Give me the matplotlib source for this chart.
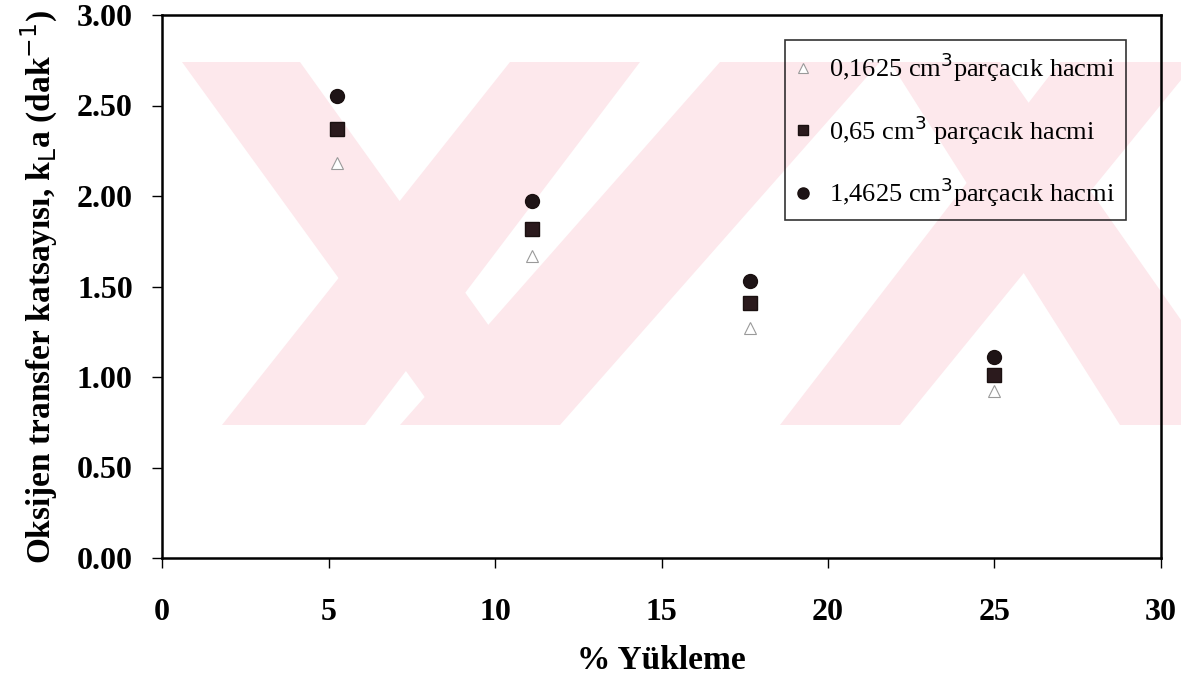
import numpy as np
import matplotlib.pyplot as plt
from matplotlib.patches import Polygon

# data
yukleme = [5.26, 11.11, 17.65, 25.0]
kla_01625 = [2.18, 1.67, 1.27, 0.92]
kla_065 = [2.37, 1.82, 1.41, 1.01]
kla_14625 = [2.55, 1.97, 1.53, 1.11]

W, H = 1181, 677


def main():
    plt.rcParams['font.family'] = ['Liberation Serif', 'DejaVu Sans']
    plt.rcParams['mathtext.fontset'] = 'dejavusans'

    fig = plt.figure(figsize=(W / 100, H / 100), dpi=100)
    fig.patch.set_facecolor('white')

    # faint watermark behind everything, pixel coords
    bg = fig.add_axes([0, 0, 1, 1], zorder=-1)
    bg.set_xlim(0, W)
    bg.set_ylim(H, 0)
    bg.axis('off')
    pink = '#fde8ec'
    stripes = [
        [(182, 62), (300, 62), (560, 425), (445, 425)],
        [(510, 62), (640, 62), (365, 425), (222, 425)],
        [(720, 62), (880, 62), (560, 425), (400, 425)],
        [(890, 62), (1000, 62), (1181, 320), (1181, 425), (1120, 425)],
        [(1060, 62), (1181, 62), (1181, 80), (900, 425), (780, 425)],
    ]
    for pts in stripes:
        bg.add_patch(Polygon(pts, closed=True, facecolor=pink, edgecolor='none'))

    ax = fig.add_axes([162 / W, 1 - 558 / H, (1161 - 162) / W, (558 - 15) / H])
    ax.patch.set_alpha(0)

    ax.plot(yukleme, kla_01625, ls='none', marker='^', ms=9, mfc='white',
            mec='#9a9a9a', mew=0.8, label='0,1625 cm$^{3}$parçacık hacmi')
    ax.plot(yukleme, kla_065, ls='none', marker='s', ms=9.5, mfc='#2b1a1d',
            mec='#1a1010', label='0,65 cm$^{3}$ parçacık hacmi')
    ax.plot(yukleme, kla_14625, ls='none', marker='o', ms=10, mfc='#1e1416',
            mec='#1a1010', label='1,4625 cm$^{3}$parçacık hacmi')

    ax.set_xlim(0, 30)
    ax.set_ylim(0, 3)
    ax.set_xticks(np.arange(0, 31, 5))
    ax.set_yticks(np.arange(0, 3.01, 0.5))
    ax.set_yticklabels(['%.2f' % v for v in np.arange(0, 3.01, 0.5)])
    ax.tick_params(axis='x', direction='out', length=7, width=1, pad=22, labelsize=23)
    ax.tick_params(axis='y', direction='out', length=7, width=1, pad=14, labelsize=23)
    for lab in ax.get_xticklabels() + ax.get_yticklabels():
        lab.set_fontweight('bold')
    for s in ax.spines.values():
        s.set_linewidth(1.8)

    ax.set_xlabel('% Yükleme', fontsize=24, fontweight='bold', labelpad=13)
    ax.set_ylabel('Oksijen transfer katsayısı, k$_{\\mathrm{L}}$a (dak$^{-1}$)',
                  fontsize=24, fontweight='bold', labelpad=12)

    leg = ax.legend(loc='upper right', bbox_to_anchor=((1126 - 162) / (1161 - 162), (558 - 40) / 543),
                    borderaxespad=0, fontsize=19, frameon=True, fancybox=False,
                    edgecolor='black', facecolor='none', framealpha=None,
                    handlelength=0.6, handletextpad=0.7, labelspacing=1.1,
                    borderpad=0.4, markerscale=0.8)
    leg.get_frame().set_linewidth(1.2)

    fig.savefig('out.png', dpi=100)


if __name__ == '__main__':
    main()
